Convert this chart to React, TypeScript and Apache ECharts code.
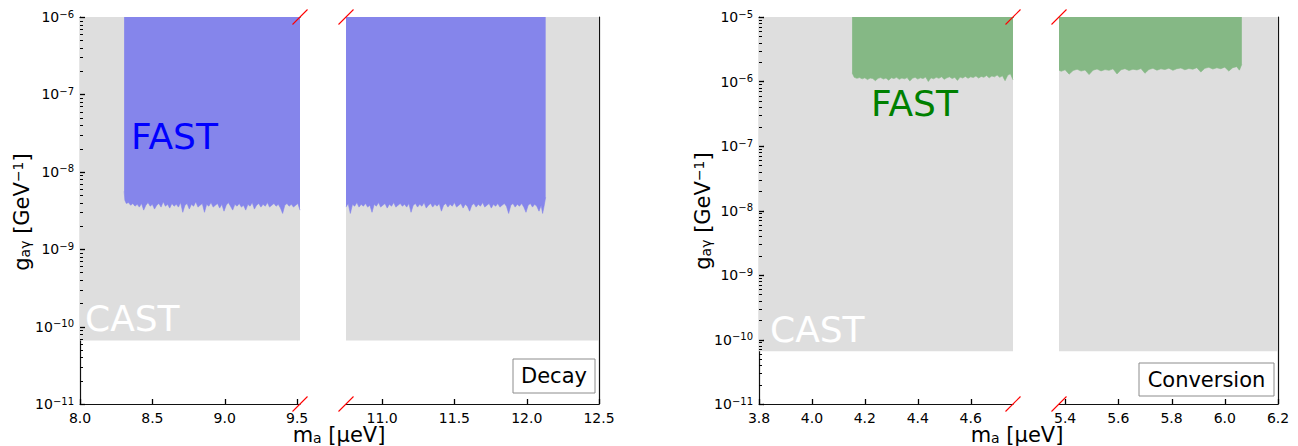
import React, { useEffect, useRef } from "react";
import * as echarts from "echarts";

const FONT = "DejaVu Sans";

// ---------- axis ranges & ticks ----------
const DECAY_RANGE_A = [8.0, 9.52];
const DECAY_RANGE_B = [10.75, 12.5];
const CONV_RANGE_A = [3.8, 4.76];
const CONV_RANGE_B = [5.377, 6.2];

const DECAY_X_TICKS_A = [8.0, 8.5, 9.0, 9.5];
const DECAY_X_TICKS_B = [11.0, 11.5, 12.0, 12.5];
const CONV_X_TICKS_A = [3.8, 4.0, 4.2, 4.4, 4.6];
const CONV_X_TICKS_B = [5.4, 5.6, 5.8, 6.0, 6.2];

const DECAY_Y_RANGE = [1e-11, 1e-6];
const CONV_Y_RANGE = [1e-11, 1e-5];
const DECAY_Y_TICKS = [1e-11, 1e-10, 1e-9, 1e-8, 1e-7, 1e-6];
const CONV_Y_TICKS = [1e-11, 1e-10, 1e-9, 1e-8, 1e-7, 1e-6, 1e-5];
const MINOR_MULTIPLIERS = [2, 3, 4, 5, 6, 7, 8, 9];

// ---------- data ----------
const CAST_LIMIT = 6.6e-11;

// FAST decay limit, segment 8.3–9.52 µeV
const decayLimitA: [number, number][] = [
  [8.305, 5.6e-9], [8.31, 4.3e-9], [8.32, 3.9e-9], [8.335, 4.0e-9], [8.35, 3.7e-9],
  [8.365, 3.9e-9], [8.38, 3.6e-9], [8.395, 3.8e-9], [8.41, 3.5e-9], [8.425, 3.9e-9],
  [8.44, 3.2e-9], [8.455, 3.7e-9], [8.47, 4.0e-9], [8.485, 3.6e-9], [8.5, 3.8e-9],
  [8.515, 3.3e-9], [8.53, 3.7e-9], [8.545, 3.9e-9], [8.56, 3.5e-9], [8.575, 4.1e-9],
  [8.59, 3.6e-9], [8.605, 3.8e-9], [8.62, 3.4e-9], [8.635, 3.9e-9], [8.65, 3.6e-9],
  [8.665, 3.8e-9], [8.68, 3.5e-9], [8.695, 4.0e-9], [8.71, 3.0e-9], [8.725, 3.7e-9],
  [8.74, 3.9e-9], [8.755, 3.3e-9], [8.77, 3.8e-9], [8.785, 3.6e-9], [8.8, 4.1e-9],
  [8.815, 3.5e-9], [8.83, 3.7e-9], [8.845, 3.9e-9], [8.86, 3.0e-9], [8.875, 3.8e-9],
  [8.89, 3.6e-9], [8.905, 4.0e-9], [8.92, 3.5e-9], [8.935, 3.7e-9], [8.95, 3.9e-9],
  [8.965, 3.4e-9], [8.98, 3.8e-9], [8.995, 3.1e-9], [9.01, 3.7e-9], [9.025, 4.0e-9],
  [9.04, 3.6e-9], [9.055, 3.2e-9], [9.07, 3.8e-9], [9.085, 3.6e-9], [9.1, 3.9e-9],
  [9.115, 3.5e-9], [9.13, 3.7e-9], [9.145, 3.2e-9], [9.16, 3.8e-9], [9.175, 3.6e-9],
  [9.19, 4.0e-9], [9.205, 3.3e-9], [9.22, 3.7e-9], [9.235, 3.9e-9], [9.25, 3.5e-9],
  [9.265, 3.8e-9], [9.28, 3.6e-9], [9.295, 4.0e-9], [9.31, 3.5e-9], [9.325, 3.7e-9],
  [9.34, 3.9e-9], [9.355, 3.6e-9], [9.37, 3.8e-9], [9.385, 3.4e-9], [9.4, 2.9e-9],
  [9.415, 3.7e-9], [9.43, 3.9e-9], [9.445, 3.6e-9], [9.46, 3.8e-9], [9.475, 3.5e-9],
  [9.49, 3.7e-9], [9.505, 3.9e-9], [9.52, 3.2e-9],
];

// FAST decay limit, segment 10.75–12.13 µeV
const decayLimitB: [number, number][] = [
  [10.75, 3.5e-9], [10.765, 3.9e-9], [10.78, 2.9e-9], [10.795, 3.8e-9], [10.81, 3.6e-9],
  [10.825, 4.0e-9], [10.84, 3.5e-9], [10.855, 3.8e-9], [10.87, 3.6e-9], [10.885, 3.9e-9],
  [10.9, 3.5e-9], [10.915, 3.7e-9], [10.93, 3.0e-9], [10.945, 3.8e-9], [10.96, 3.6e-9],
  [10.975, 4.0e-9], [10.99, 3.5e-9], [11.005, 3.7e-9], [11.02, 3.9e-9], [11.035, 3.4e-9],
  [11.05, 3.8e-9], [11.065, 3.6e-9], [11.08, 4.0e-9], [11.095, 3.5e-9], [11.11, 3.7e-9],
  [11.125, 3.9e-9], [11.14, 3.6e-9], [11.155, 3.8e-9], [11.17, 3.5e-9], [11.185, 3.9e-9],
  [11.2, 3.0e-9], [11.215, 3.7e-9], [11.23, 3.9e-9], [11.245, 3.5e-9], [11.26, 3.8e-9],
  [11.275, 3.6e-9], [11.29, 4.0e-9], [11.305, 3.4e-9], [11.32, 3.7e-9], [11.335, 3.9e-9],
  [11.35, 3.5e-9], [11.365, 3.8e-9], [11.38, 3.6e-9], [11.395, 3.9e-9], [11.41, 3.1e-9],
  [11.425, 3.7e-9], [11.44, 3.9e-9], [11.455, 3.5e-9], [11.47, 3.8e-9], [11.485, 3.6e-9],
  [11.5, 4.0e-9], [11.515, 3.5e-9], [11.53, 3.7e-9], [11.545, 3.9e-9], [11.56, 3.4e-9],
  [11.575, 3.8e-9], [11.59, 3.6e-9], [11.605, 3.1e-9], [11.62, 3.7e-9], [11.635, 3.9e-9],
  [11.65, 3.5e-9], [11.665, 3.8e-9], [11.68, 3.6e-9], [11.695, 4.0e-9], [11.71, 3.5e-9],
  [11.725, 3.7e-9], [11.74, 3.9e-9], [11.755, 3.4e-9], [11.77, 3.8e-9], [11.785, 3.6e-9],
  [11.8, 3.9e-9], [11.815, 3.5e-9], [11.83, 3.7e-9], [11.845, 3.9e-9], [11.86, 3.6e-9],
  [11.875, 2.9e-9], [11.89, 3.7e-9], [11.905, 3.9e-9], [11.92, 3.5e-9], [11.935, 3.8e-9],
  [11.95, 3.6e-9], [11.965, 3.9e-9], [11.98, 3.5e-9], [11.995, 3.0e-9], [12.01, 3.7e-9],
  [12.025, 3.9e-9], [12.04, 3.5e-9], [12.055, 3.8e-9], [12.07, 3.6e-9], [12.085, 3.1e-9],
  [12.1, 3.7e-9], [12.11, 2.9e-9], [12.12, 3.6e-9], [12.131, 4.7e-9],
];

// FAST conversion limit, segment 4.15–4.76 µeV
const convLimitA: [number, number][] = [
  [4.152, 1.36e-6], [4.16, 1.16e-6], [4.17, 1.12e-6], [4.18, 1.15e-6], [4.19, 1.1e-6],
  [4.2, 1.14e-6], [4.21, 1.07e-6], [4.22, 1.13e-6], [4.23, 1.11e-6], [4.24, 1.03e-6],
  [4.25, 1.12e-6], [4.26, 1.15e-6], [4.27, 1.09e-6], [4.28, 1.13e-6], [4.29, 1.05e-6],
  [4.3, 1.14e-6], [4.31, 1.11e-6], [4.32, 1.16e-6], [4.33, 1.08e-6], [4.34, 1.13e-6],
  [4.35, 1.1e-6], [4.36, 1.15e-6], [4.37, 1.02e-6], [4.38, 1.12e-6], [4.39, 1.16e-6],
  [4.4, 1.09e-6], [4.41, 1.14e-6], [4.42, 1.11e-6], [4.43, 1.17e-6], [4.44, 1.0e-6],
  [4.45, 1.14e-6], [4.46, 1.1e-6], [4.47, 1.16e-6], [4.48, 1.12e-6], [4.49, 1.18e-6],
  [4.5, 1.08e-6], [4.51, 1.14e-6], [4.52, 1.18e-6], [4.53, 1.11e-6], [4.54, 1.16e-6],
  [4.55, 1.04e-6], [4.56, 1.17e-6], [4.57, 1.13e-6], [4.58, 1.2e-6], [4.59, 1.12e-6],
  [4.6, 1.18e-6], [4.61, 1.15e-6], [4.62, 1.22e-6], [4.63, 1.13e-6], [4.64, 1.2e-6],
  [4.65, 1.16e-6], [4.66, 1.24e-6], [4.67, 1.14e-6], [4.68, 1.22e-6], [4.69, 1.18e-6],
  [4.7, 1.26e-6], [4.71, 1.16e-6], [4.72, 1.23e-6], [4.73, 1.03e-6], [4.74, 1.25e-6],
  [4.75, 1.32e-6], [4.76, 1.06e-6],
];

// FAST conversion limit, segment 5.38–6.06 µeV
const convLimitB: [number, number][] = [
  [5.377, 1.5e-6], [5.385, 1.44e-6], [5.4, 1.52e-6], [5.415, 1.3e-6], [5.43, 1.48e-6],
  [5.445, 1.55e-6], [5.46, 1.45e-6], [5.475, 1.51e-6], [5.49, 1.28e-6], [5.505, 1.5e-6],
  [5.52, 1.56e-6], [5.535, 1.46e-6], [5.55, 1.53e-6], [5.565, 1.49e-6], [5.58, 1.57e-6],
  [5.595, 1.31e-6], [5.61, 1.52e-6], [5.625, 1.58e-6], [5.64, 1.48e-6], [5.655, 1.55e-6],
  [5.67, 1.51e-6], [5.685, 1.59e-6], [5.7, 1.34e-6], [5.715, 1.54e-6], [5.73, 1.6e-6],
  [5.745, 1.5e-6], [5.76, 1.57e-6], [5.775, 1.53e-6], [5.79, 1.61e-6], [5.805, 1.49e-6],
  [5.82, 1.58e-6], [5.835, 1.62e-6], [5.85, 1.52e-6], [5.865, 1.59e-6], [5.88, 1.55e-6],
  [5.895, 1.64e-6], [5.91, 1.4e-6], [5.925, 1.6e-6], [5.94, 1.66e-6], [5.955, 1.56e-6],
  [5.97, 1.63e-6], [5.985, 1.58e-6], [6.0, 1.67e-6], [6.015, 1.45e-6], [6.03, 1.64e-6],
  [6.045, 1.7e-6], [6.055, 1.5e-6], [6.064, 1.85e-6],
];

// ---------- styling / layout ----------
const CAST_COLOR = "#dedede";
const DECAY_COLOR = "#8585eb";
const CONV_COLOR = "#85b885";
const AXIS_COLOR = "#111";
const TOP = 17;
const HEIGHT = 387;

type Seg = {
  left: number;
  width: number;
  range: number[];
  xTicks: number[];
  yRange: number[];
  yTicks: number[];
  first: boolean;
  limit: [number, number][];
  color: string;
};

const SEGMENTS: Seg[] = [
  { left: 80, width: 220, range: DECAY_RANGE_A, xTicks: DECAY_X_TICKS_A, yRange: DECAY_Y_RANGE, yTicks: DECAY_Y_TICKS, first: true, limit: decayLimitA, color: DECAY_COLOR },
  { left: 346, width: 253, range: DECAY_RANGE_B, xTicks: DECAY_X_TICKS_B, yRange: DECAY_Y_RANGE, yTicks: DECAY_Y_TICKS, first: false, limit: decayLimitB, color: DECAY_COLOR },
  { left: 759, width: 254, range: CONV_RANGE_A, xTicks: CONV_X_TICKS_A, yRange: CONV_Y_RANGE, yTicks: CONV_Y_TICKS, first: true, limit: convLimitA, color: CONV_COLOR },
  { left: 1059, width: 219, range: CONV_RANGE_B, xTicks: CONV_X_TICKS_B, yRange: CONV_Y_RANGE, yTicks: CONV_Y_TICKS, first: false, limit: convLimitB, color: CONV_COLOR },
];

function minorTicks(major: number[]): number[] {
  const out: number[] = [];
  for (let i = 0; i < major.length - 1; i++) {
    for (const k of MINOR_MULTIPLIERS) out.push(k * major[i]);
  }
  return out;
}

const supRich = {
  b: { fontSize: 14, fontFamily: FONT, color: "#000" },
  sup: { fontSize: 10, fontFamily: FONT, color: "#000", padding: [0, 0, 6, 0] },
};

function yLabel(v: number): string {
  const e = Math.round(Math.log10(v));
  return `{b|10}{sup|−${Math.abs(e)}}`;
}

function buildOption() {
  const grid: any[] = [];
  const xAxis: any[] = [];
  const yAxis: any[] = [];
  const series: any[] = [];
  const castSeriesIndex: number[] = [];

  SEGMENTS.forEach((s, g) => {
    grid.push({ left: s.left, top: TOP, width: s.width, height: HEIGHT, containLabel: false, outerBoundsMode: "none" });
    const xi = xAxis.length;
    xAxis.push({
      gridIndex: g, type: "value", position: "bottom", min: s.range[0], max: s.range[1],
      axisLine: { show: true, onZero: false, lineStyle: { color: AXIS_COLOR, width: 1.2 } },
      axisTick: { show: false },
      axisLabel: { show: true, customValues: s.xTicks, formatter: (v: number) => v.toFixed(1), fontSize: 14, fontFamily: FONT, color: "#000", margin: 7 },
      splitLine: { show: false },
    });
    xAxis.push({
      gridIndex: g, type: "value", position: "top", min: s.range[0], max: s.range[1],
      axisLine: { show: true, onZero: false, lineStyle: { color: AXIS_COLOR, width: 1.2 } },
      axisTick: { show: false }, axisLabel: { show: false }, splitLine: { show: false },
    });
    const yi = yAxis.length;
    yAxis.push({
      gridIndex: g, type: "log", logBase: 10, position: "left", min: s.yRange[0], max: s.yRange[1],
      axisLine: { show: s.first, onZero: false, lineStyle: { color: AXIS_COLOR, width: 1.2 } },
      axisTick: { show: false },
      axisLabel: { show: s.first, customValues: s.yTicks, formatter: yLabel, rich: supRich, fontFamily: FONT, margin: 6, color: "#000" },
      splitLine: { show: false }, minorTick: { show: false }, minorSplitLine: { show: false },
    });
    if (!s.first) {
      yAxis.push({
        gridIndex: g, type: "log", logBase: 10, position: "right", min: s.yRange[0], max: s.yRange[1],
        axisLine: { show: true, onZero: false, lineStyle: { color: AXIS_COLOR, width: 1.2 } },
        axisTick: { show: false }, axisLabel: { show: false }, splitLine: { show: false },
      });
    }
    castSeriesIndex.push(series.length);
    series.push({
      type: "line", xAxisIndex: xi, yAxisIndex: yi, symbol: "none", silent: true,
      data: [[s.range[0], CAST_LIMIT], [s.range[1], CAST_LIMIT]],
      lineStyle: { width: 0, opacity: 0 },
      areaStyle: { color: CAST_COLOR, opacity: 1, origin: "end" },
      z: 1,
    });
    series.push({
      type: "line", xAxisIndex: xi, yAxisIndex: yi, symbol: "none", silent: true,
      data: s.limit,
      lineStyle: { width: 0.6, color: s.color },
      areaStyle: { color: s.color, opacity: 1, origin: "end" },
      z: 2,
    });
  });

  const txt = (x: number, y: number, text: string, size: number, fill: string, extra: any = {}) => ({
    type: "text", x, y, z: 100, ...extra,
    style: {
      text, fill, fontSize: size, fontFamily: FONT, font: `${size}px "${FONT}"`,
      align: extra.align || "left", textAlign: extra.align || "left",
      verticalAlign: "middle", textVerticalAlign: "middle",
      rich: extra.rich,
    },
  });

  const nameRich = {
    m: { fontSize: 21, fontFamily: FONT, color: "#000", lineHeight: 21 },
    sub: { fontSize: 14, fontFamily: FONT, color: "#000", lineHeight: 14, padding: [6, 0, 0, 0] },
    sup: { fontSize: 14, fontFamily: FONT, color: "#000", lineHeight: 14, padding: [0, 0, 8, 0] },
  };
  const yName = "{m|g}{sub|aγ}{m| [GeV}{sup|−1}{m|]}";
  const xName = "{m|m}{sub|a}{m| [μeV]}";

  const brk = (cx: number, cy: number) => ({
    type: "line", z: 200, silent: true,
    shape: { x1: cx - 7.5, y1: cy + 7.5, x2: cx + 7.5, y2: cy - 7.5 },
    style: { stroke: "red", lineWidth: 1.1 },
  });

  const graphic: any[] = [
    { ...txt(22, 212, yName, 21, "#000", { align: "center", rich: nameRich }), rotation: Math.PI / 2 },
    { ...txt(703, 211, yName, 21, "#000", { align: "center", rich: nameRich }), rotation: Math.PI / 2 },
    txt(339, 435, xName, 21, "#000", { align: "center", rich: nameRich }),
    txt(1017, 435, xName, 21, "#000", { align: "center", rich: nameRich }),
    txt(131, 136, "FAST", 36, "#0000ff"),
    txt(85, 318, "CAST", 36, "#ffffff"),
    txt(871, 103, "FAST", 36, "#008000"),
    txt(770, 329, "CAST", 36, "#ffffff"),
    { type: "rect", z: 100, shape: { x: 513, y: 359, width: 82, height: 34 }, style: { fill: "#fff", stroke: "#8c8c8c", lineWidth: 1 } },
    txt(554, 376, "Decay", 21, "#000", { align: "center" }),
    { type: "rect", z: 100, shape: { x: 1139, y: 363, width: 135, height: 33 }, style: { fill: "#fff", stroke: "#8c8c8c", lineWidth: 1 } },
    txt(1206.5, 379.5, "Conversion", 21, "#000", { align: "center" }),
  ];
  SEGMENTS.forEach((s, i) => {
    const edge = i % 2 === 0 ? s.left + s.width : s.left;
    graphic.push(brk(edge, TOP), brk(edge, TOP + HEIGHT));
  });

  return {
    option: {
      animation: false,
      backgroundColor: "#ffffff",
      textStyle: { fontFamily: FONT },
      grid, xAxis, yAxis, series, graphic,
    },
    castSeriesIndex,
  };
}

// inward tick marks, positioned through each grid's own scales
function buildTicks(chart: any, castSeriesIndex: number[]) {
  const out: any[] = [];
  const tick = (x1: number, y1: number, x2: number, y2: number, w: number) => ({
    type: "line", z: 150, silent: true,
    shape: { x1, y1, x2, y2 },
    style: { stroke: "#000", lineWidth: w },
  });
  SEGMENTS.forEach((s, g) => {
    const finder = { seriesIndex: castSeriesIndex[g] };
    s.xTicks.forEach((v) => {
      const p = chart.convertToPixel(finder, [v, s.yRange[0]]);
      if (p) {
        const x = Math.round(p[0]) + 0.5;
        out.push(tick(x, p[1], x, p[1] - 5, 1.3));
      }
    });
    if (s.first) {
      s.yTicks.forEach((v) => {
        const p = chart.convertToPixel(finder, [s.range[0], v]);
        if (p) {
          const y = Math.round(p[1]) + 0.5;
          out.push(tick(p[0], y, p[0] + 5, y, 1.3));
        }
      });
      minorTicks(s.yTicks).forEach((v) => {
        const p = chart.convertToPixel(finder, [s.range[0], v]);
        if (p) {
          const y = Math.round(p[1]) + 0.5;
          out.push(tick(p[0], y, p[0] + 3, y, 1));
        }
      });
    }
  });
  return out;
}

export default function App() {
  const ref = useRef<HTMLDivElement>(null);
  useEffect(() => {
    if (!ref.current) return;
    const chart = echarts.init(ref.current, undefined, { renderer: "svg" });
    const { option, castSeriesIndex } = buildOption();
    chart.setOption(option as any);
    const ticks = buildTicks(chart, castSeriesIndex);
    chart.setOption({ graphic: [...option.graphic, ...ticks] } as any);
    return () => chart.dispose();
  }, []);
  return (
    <div
      ref={ref}
      style={{ position: "fixed", left: 0, top: 0, width: 1298, height: 446, background: "#fff" }}
    />
  );
}
